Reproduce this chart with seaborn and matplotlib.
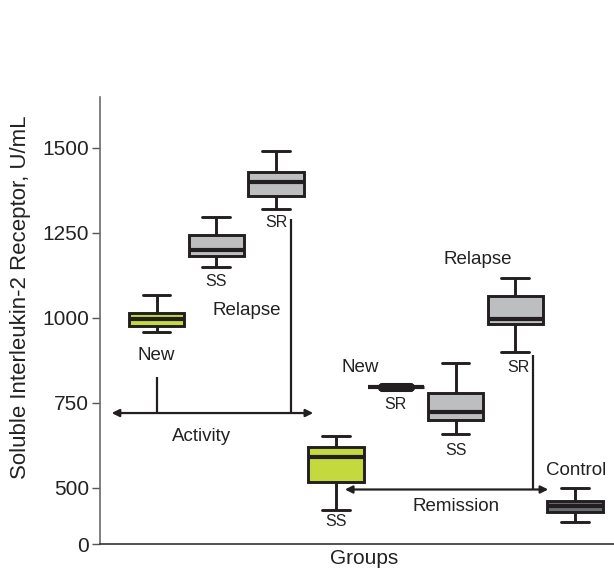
import numpy as np
import pandas as pd
import matplotlib
matplotlib.use("Agg")
import matplotlib.pyplot as plt
import seaborn as sns

# ---- data (five-number summaries: min, Q1, median, Q3, max) ----
groups = ["Activity New", "Activity Relapse SS", "Activity Relapse SR",
          "Remission SS", "Remission New SR", "Remission Relapse SS",
          "Remission Relapse SR", "Control"]
activity_new = [958, 975, 998, 1014, 1066]
activity_relapse_ss = [1149, 1182, 1200, 1245, 1298]
activity_relapse_sr = [1321, 1360, 1399, 1430, 1490]
remission_ss = [434, 518, 591, 619, 653]
remission_new_sr = [797, 797, 797, 797, 797]
remission_relapse_ss = [658, 699, 723, 780, 867]
remission_relapse_sr = [900, 981, 997, 1064, 1118]
control = [400, 430, 447, 462, 500]
y_ticks = [0, 500, 750, 1000, 1250, 1500]

series = [activity_new, activity_relapse_ss, activity_relapse_sr, remission_ss,
          remission_new_sr, remission_relapse_ss, remission_relapse_sr, control]
df = pd.DataFrame({
    "group": np.repeat(groups, [len(s) for s in series]),
    "value": np.concatenate(series),
})

GREEN = "#c4d93e"
LGRAY = "#bcbec0"
DGRAY = "#6d6e71"
INK = "#231f20"
palette = [GREEN, LGRAY, LGRAY, GREEN, INK, LGRAY, LGRAY, DGRAY]

sns.set_theme(style="white")
plt.rcParams["font.family"] = ["Liberation Sans", "DejaVu Sans"]

fig = plt.figure(figsize=(6.14, 5.71), dpi=100)
ax = fig.add_axes([100 / 614, 1 - 544 / 571, 514 / 614, 447 / 571])

# broken-looking y axis: linear above B, compressed below
B = 390.0
C = (B - 334.6) / B


def fwd(v):
    v = np.asarray(v, dtype=float)
    return np.where(v >= B, v, B - (B - v) * C)


def inv(u):
    u = np.asarray(u, dtype=float)
    return np.where(u >= B, u, B - (B - u) / C)


ax.set_yscale("function", functions=(fwd, inv))

sns.boxplot(data=df, x="group", y="value", hue="group", order=groups,
            hue_order=groups, palette=palette, legend=False, saturation=1,
            width=0.93, whis=(0, 100), linecolor=INK, linewidth=2.1,
            medianprops=dict(linewidth=3.0, color=INK), ax=ax)

# the "New SR" group is a collapsed box: its caps drawn as a thick bar
for cap in ax.containers[4].caps:
    cap.set_linewidth(6.5)
    cap.set_color(INK)

ax.set_ylim(0, 1650)
ax.set_xlim(-0.945, 7.65)
ax.set_yticks(y_ticks)
ax.set_yticklabels([str(t) for t in y_ticks], fontsize=15, color="#222222")
ax.set_xticks([])
ax.tick_params(axis="y", which="both", left=True, length=6, width=1.0,
               color="#555555", pad=2)
for s in ["top", "right"]:
    ax.spines[s].set_visible(False)
ax.spines["left"].set_color("#6b6b6b")
ax.spines["left"].set_linewidth(1.2)
ax.spines["bottom"].set_color("#333333")
ax.spines["bottom"].set_linewidth(1.2)

ax.set_ylabel("Soluble Interleukin-2 Receptor, U/mL", fontsize=16,
              color="#222222")
ax.yaxis.set_label_coords(-0.134, 0.553)
ax.set_xlabel("Groups", fontsize=15, color="#222222")
ax.xaxis.set_label_coords(0.514, -0.012)

# annotations
big = dict(fontsize=13.5, color="#222222", ha="center", va="center")
small = dict(fontsize=11.5, color="#222222", ha="center", va="center")
ax.text(0.0, 890, "New", **big)
ax.text(1.51, 1022, "Relapse", **big)
ax.text(1.0, 1108, "SS", **small)
ax.text(2.0, 1281, "SR", **small)
ax.text(0.755, 650, "Activity", **big)
ax.text(3.0, 400, "SS", **small)
ax.text(3.4, 854, "New", **big)
ax.text(4.0, 746, "SR", **small)
ax.text(5.0, 609, "SS", **small)
ax.text(5.38, 1172, "Relapse", **big)
ax.text(6.05, 854, "SR", **small)
ax.text(5.01, 444, "Remission", **big)
ax.text(7.01, 550, "Control", **big)

arrow = dict(arrowstyle="<|-|>", lw=1.6, color=INK, mutation_scale=11,
             shrinkA=0, shrinkB=0)
ax.annotate("", xy=(-0.75, 720), xytext=(2.62, 720), arrowprops=arrow)
ax.plot([0.0, 0.0], [826, 720], color=INK, lw=1.6, solid_capstyle="butt")
ax.plot([2.25, 2.25], [1291, 720], color=INK, lw=1.6, solid_capstyle="butt")
ax.annotate("", xy=(3.15, 495), xytext=(6.55, 495), arrowprops=arrow)
ax.plot([6.29, 6.29], [890, 495], color=INK, lw=1.6, solid_capstyle="butt")

fig.savefig("out.png", dpi=100)
